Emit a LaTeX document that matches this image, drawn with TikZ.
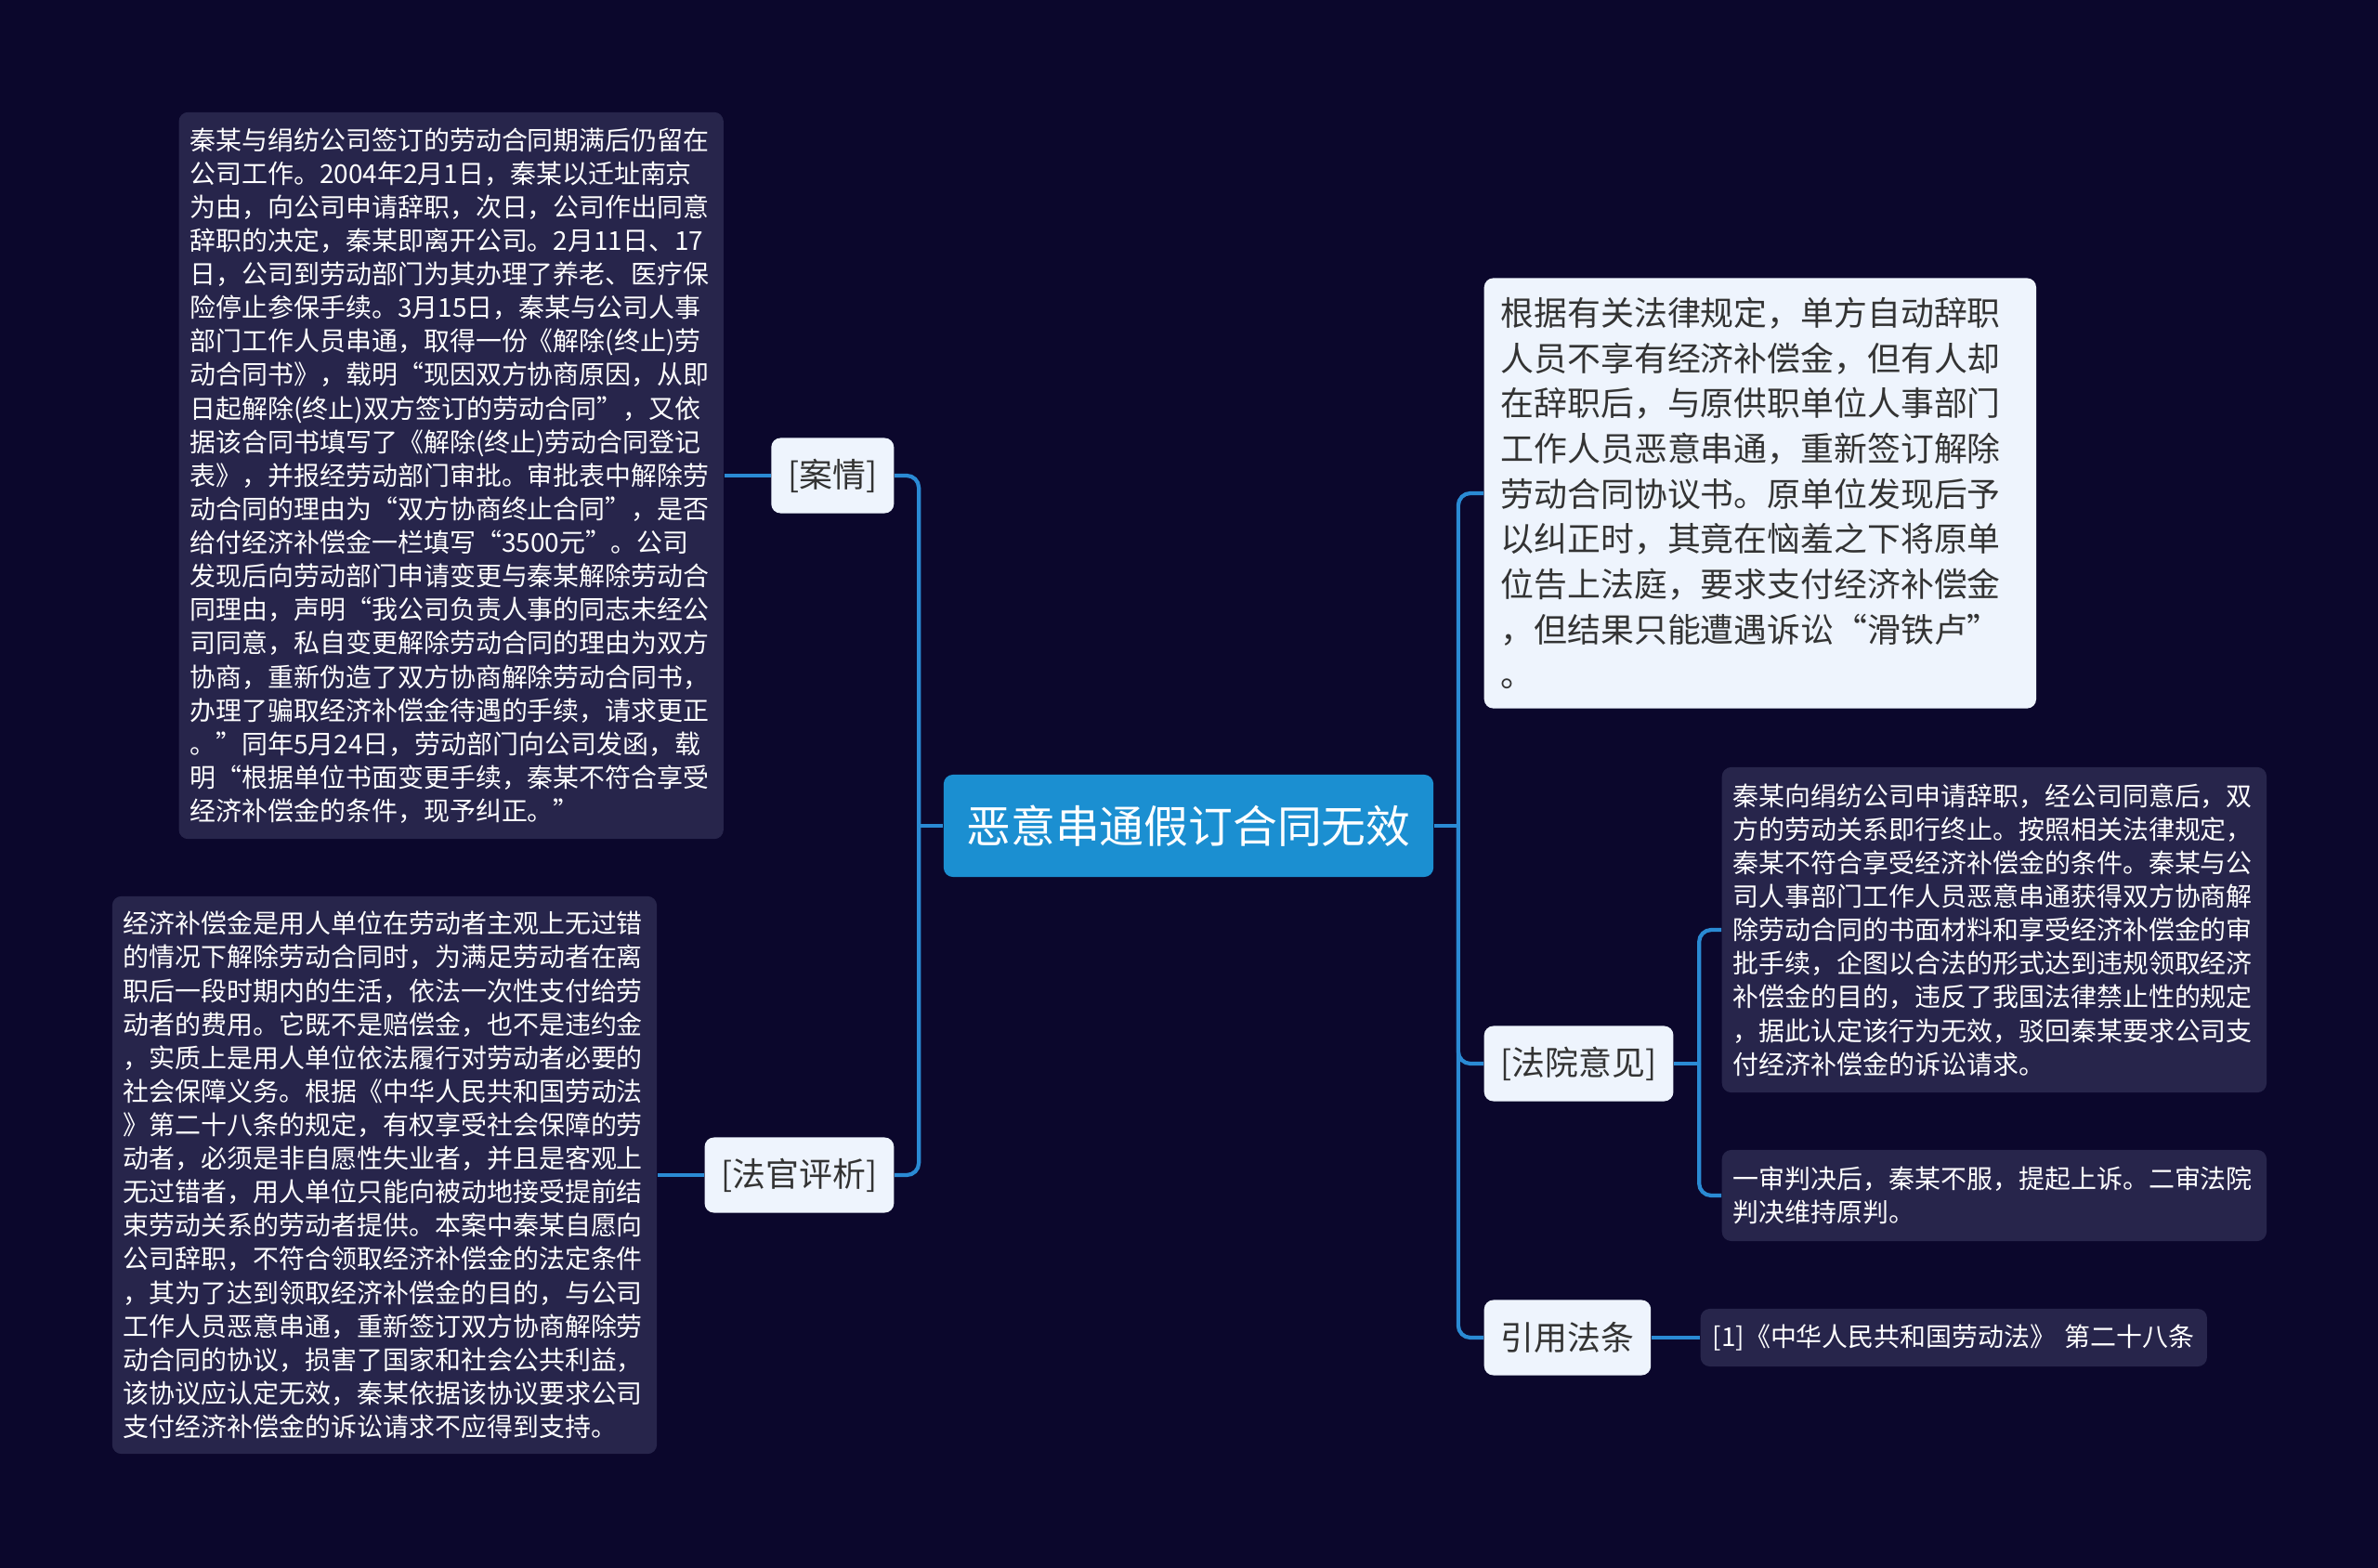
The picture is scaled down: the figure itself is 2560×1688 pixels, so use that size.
\documentclass[tikz,border=0pt]{standalone}
\usepackage{fontspec}
\setmainfont{Noto Sans CJK SC}
\usetikzlibrary{positioning}
\definecolor{bgnavy}{HTML}{0B072C}
\definecolor{topicblue}{HTML}{1B8FD1}
\definecolor{paleblue}{HTML}{EEF4FD}
\definecolor{noteslate}{HTML}{27254B}
\definecolor{linkblue}{HTML}{2A8AD4}
\definecolor{inkgray}{HTML}{333333}

\begin{document}
\begin{tikzpicture}[
    x=0.01cm, y=-0.01cm,
    topic/.style={fill=topicblue, text=white, rounded corners=0.1cm, minimum width=5.27cm, minimum height=1.1cm, font=\fontsize{13.6}{16}\selectfont},
    branch/.style={fill=paleblue, text=inkgray, rounded corners=0.1cm, minimum height=0.81cm, inner xsep=0.18cm, font=\fontsize{10.2}{12}\selectfont},
    note/.style={fill=noteslate, text=white, rounded corners=0.1cm, align=left, inner xsep=0.12cm, text width=5.62cm, font=\fontsize{7.95}{10.27}\selectfont},
    link/.style={draw=linkblue, line width=1.2pt, rounded corners=0.13cm}
  ]
  \fill[bgnavy] (0,0) rectangle (2560,1688);

  % Nodes
  \node[topic] (main) at (1279.5,889) {恶意串通假订合同无效};

  \node[branch, anchor=east] (anqing) at (963,512) {[案情]};
  \node[note, left=0.5cm of anqing, minimum height=7.82cm] (anqingtxt) {秦某与绢纺公司签订的劳动合同期满后仍留在\\公司工作。2004年2月1日，秦某以迁址南京\\为由，向公司申请辞职，次日，公司作出同意\\辞职的决定，秦某即离开公司。2月11日、17\\日，公司到劳动部门为其办理了养老、医疗保\\险停止参保手续。3月15日，秦某与公司人事\\部门工作人员串通，取得一份《解除(终止)劳\\动合同书》，载明“现因双方协商原因，从即\\日起解除(终止)双方签订的劳动合同”，又依\\据该合同书填写了《解除(终止)劳动合同登记\\表》，并报经劳动部门审批。审批表中解除劳\\动合同的理由为“双方协商终止合同”，是否\\给付经济补偿金一栏填写“3500元”。公司\\发现后向劳动部门申请变更与秦某解除劳动合\\同理由，声明“我公司负责人事的同志未经公\\司同意，私自变更解除劳动合同的理由为双方\\协商，重新伪造了双方协商解除劳动合同书，\\办理了骗取经济补偿金待遇的手续，请求更正\\。”同年5月24日，劳动部门向公司发函，载\\明“根据单位书面变更手续，秦某不符合享受\\经济补偿金的条件，现予纠正。”};

  \node[branch, anchor=east] (pingxi) at (963,1265) {[法官评析]};
  \node[note, left=0.5cm of pingxi, minimum height=6cm] (pingxitxt) {经济补偿金是用人单位在劳动者主观上无过错\\的情况下解除劳动合同时，为满足劳动者在离\\职后一段时期内的生活，依法一次性支付给劳\\动者的费用。它既不是赔偿金，也不是违约金\\，实质上是用人单位依法履行对劳动者必要的\\社会保障义务。根据《中华人民共和国劳动法\\》第二十八条的规定，有权享受社会保障的劳\\动者，必须是非自愿性失业者，并且是客观上\\无过错者，用人单位只能向被动地接受提前结\\束劳动关系的劳动者提供。本案中秦某自愿向\\公司辞职，不符合领取经济补偿金的法定条件\\，其为了达到领取经济补偿金的目的，与公司\\工作人员恶意串通，重新签订双方协商解除劳\\动合同的协议，损害了国家和社会公共利益，\\该协议应认定无效，秦某依据该协议要求公司\\支付经济补偿金的诉讼请求不应得到支持。};

  \node[branch, anchor=west, align=left, text width=5.58cm, minimum height=4.63cm, font=\fontsize{10.2}{13.83}\selectfont] (summary) at (1597,531) {根据有关法律规定，单方自动辞职\\人员不享有经济补偿金，但有人却\\在辞职后，与原供职单位人事部门\\工作人员恶意串通，重新签订解除\\劳动合同协议书。原单位发现后予\\以纠正时，其竟在恼羞之下将原单\\位告上法庭，要求支付经济补偿金\\，但结果只能遭遇诉讼“滑铁卢”\\。};

  \node[branch, anchor=west] (fayuan) at (1597,1145) {[法院意见]};
  \node[note, anchor=west, minimum height=3.5cm] (verdict) at (1853,1001) {秦某向绢纺公司申请辞职，经公司同意后，双\\方的劳动关系即行终止。按照相关法律规定，\\秦某不符合享受经济补偿金的条件。秦某与公\\司人事部门工作人员恶意串通获得双方协商解\\除劳动合同的书面材料和享受经济补偿金的审\\批手续，企图以合法的形式达到违规领取经济\\补偿金的目的，违反了我国法律禁止性的规定\\，据此认定该行为无效，驳回秦某要求公司支\\付经济补偿金的诉讼请求。};
  \node[note, anchor=west, minimum height=0.98cm] (appeal) at (1853,1287) {一审判决后，秦某不服，提起上诉。二审法院\\判决维持原判。};

  \node[branch, anchor=west] (fatiao) at (1597,1440) {引用法条};
  \node[note, right=0.52cm of fatiao, text width=5.19cm, minimum height=0.62cm, inner xsep=0.13cm] (lawref) {[1]《中华人民共和国劳动法》 第二十八条};

  % Connectors
  \coordinate[left=0.26cm of main.west] (ltrunk);
  \coordinate[right=0.26cm of main.east] (rtrunk);
  \coordinate[right=0.27cm of fayuan.east] (ftrunk);

  \draw[link] (main.west) -- (ltrunk);
  \draw[link] (ltrunk) |- (anqing.east);
  \draw[link] (ltrunk) |- (pingxi.east);
  \draw[link] (anqing.west) -- (anqingtxt.east);
  \draw[link] (pingxi.west) -- (pingxitxt.east);

  \draw[link] (main.east) -- (rtrunk);
  \draw[link] (rtrunk) |- (summary.west);
  \draw[link] (rtrunk) |- (fayuan.west);
  \draw[link] (rtrunk) |- (fatiao.west);
  \draw[link] (fayuan.east) -- (ftrunk);
  \draw[link] (ftrunk) |- (verdict.west);
  \draw[link] (ftrunk) |- (appeal.west);
  \draw[link] (fatiao.east) -- (lawref.west);
\end{tikzpicture}
\end{document}
